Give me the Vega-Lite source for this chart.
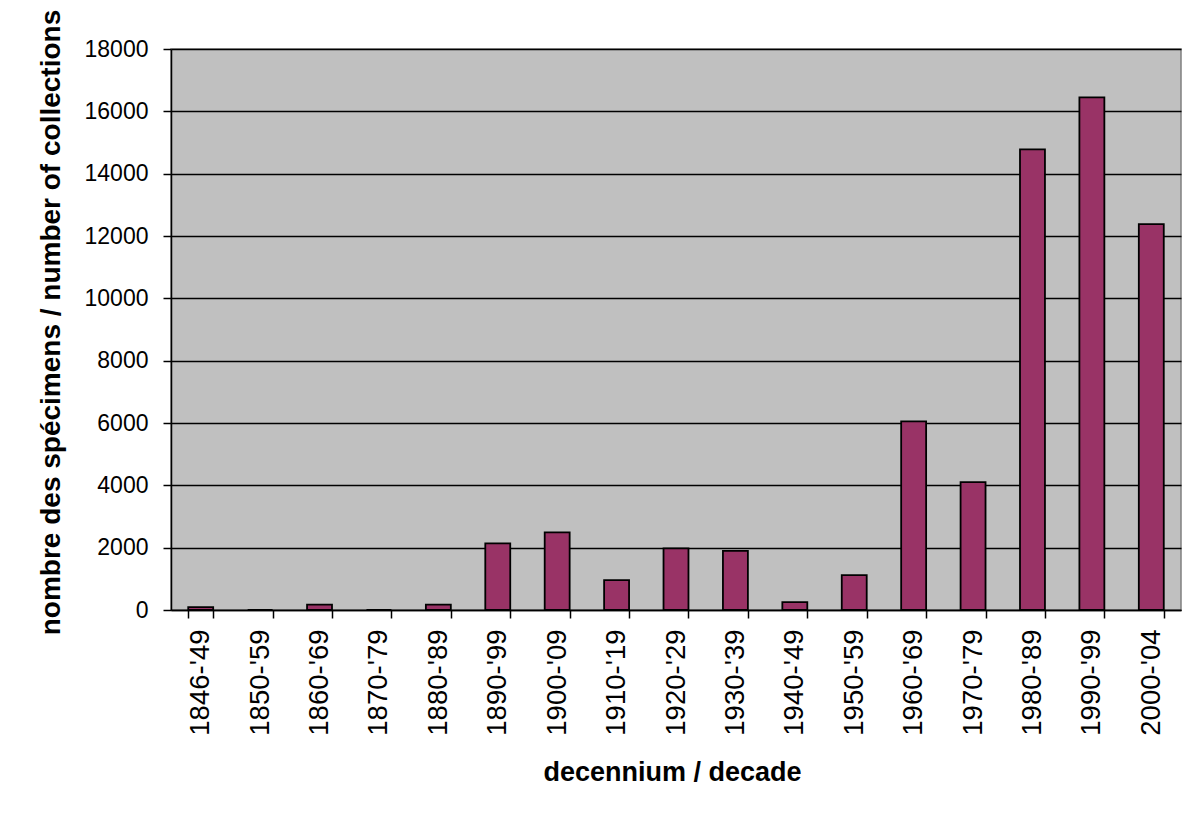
{
  "$schema": "https://vega.github.io/schema/vega-lite/v6.json",
  "autosize": {"type": "none"},
  "width": 1010,
  "height": 561,
  "padding": {"left": 171, "top": 49, "right": 20, "bottom": 205},
  "background": "white",
  "data": {
    "values": [
      {"decade": "1846-'49", "count": 90},
      {"decade": "1850-'59", "count": 0},
      {"decade": "1860-'69", "count": 170},
      {"decade": "1870-'79", "count": 0},
      {"decade": "1880-'89", "count": 170},
      {"decade": "1890-'99", "count": 2140},
      {"decade": "1900-'09", "count": 2490},
      {"decade": "1910-'19", "count": 960},
      {"decade": "1920-'29", "count": 1980},
      {"decade": "1930-'39", "count": 1900},
      {"decade": "1940-'49", "count": 250},
      {"decade": "1950-'59", "count": 1120},
      {"decade": "1960-'69", "count": 6050},
      {"decade": "1970-'79", "count": 4100},
      {"decade": "1980-'89", "count": 14780},
      {"decade": "1990-'99", "count": 16450},
      {"decade": "2000-'04", "count": 12380}
    ]
  },
  "mark": {"type": "bar", "fill": "#993366", "stroke": "#000000", "strokeWidth": 1.8},
  "encoding": {
    "x": {
      "field": "decade",
      "type": "nominal",
      "sort": null,
      "scale": {"paddingInner": 0.58, "paddingOuter": 0.29},
      "axis": {
        "title": "decennium / decade",
        "titleFont": "Liberation Sans",
        "titleFontSize": 27,
        "titleFontWeight": "bold",
        "titleColor": "#000000",
        "titleX": 501,
        "titleY": 162,
        "titleBaseline": "middle",
        "titleAnchor": null,
        "titleAlign": "center",
        "labelAngle": -90,
        "labelFont": "Liberation Sans",
        "labelFontSize": 27.5,
        "labelColor": "#000000",
        "labelPadding": 11,
        "labelLimit": 300,
        "tickBand": "extent",
        "tickSize": 8,
        "tickColor": "#000000",
        "tickWidth": 1.5,
        "domainColor": "#000000",
        "domainWidth": 1.5,
        "grid": false
      }
    },
    "y": {
      "field": "count",
      "type": "quantitative",
      "scale": {"domain": [0, 18000], "nice": false},
      "axis": {
        "title": "nombre des spécimens / number of collections",
        "titleFont": "Liberation Sans",
        "titleFontSize": 28,
        "titleFontWeight": "bold",
        "titleColor": "#000000",
        "titleX": -120,
        "titleY": 273,
        "titleAngle": -90,
        "titleBaseline": "middle",
        "titleAlign": "center",
        "titleLimit": 900,
        "values": [0, 2000, 4000, 6000, 8000, 10000, 12000, 14000, 16000, 18000],
        "format": "d",
        "labelFont": "Liberation Sans",
        "labelFontSize": 23,
        "labelColor": "#000000",
        "labelPadding": 15,
        "tickSize": 8,
        "tickColor": "#000000",
        "tickWidth": 1.5,
        "domainColor": "#000000",
        "domainWidth": 1.5,
        "grid": true,
        "gridColor": "#000000",
        "gridWidth": 1.3
      }
    }
  },
  "config": {
    "view": {"fill": "#C0C0C0", "stroke": "#808080", "strokeWidth": 1.5}
  }
}
